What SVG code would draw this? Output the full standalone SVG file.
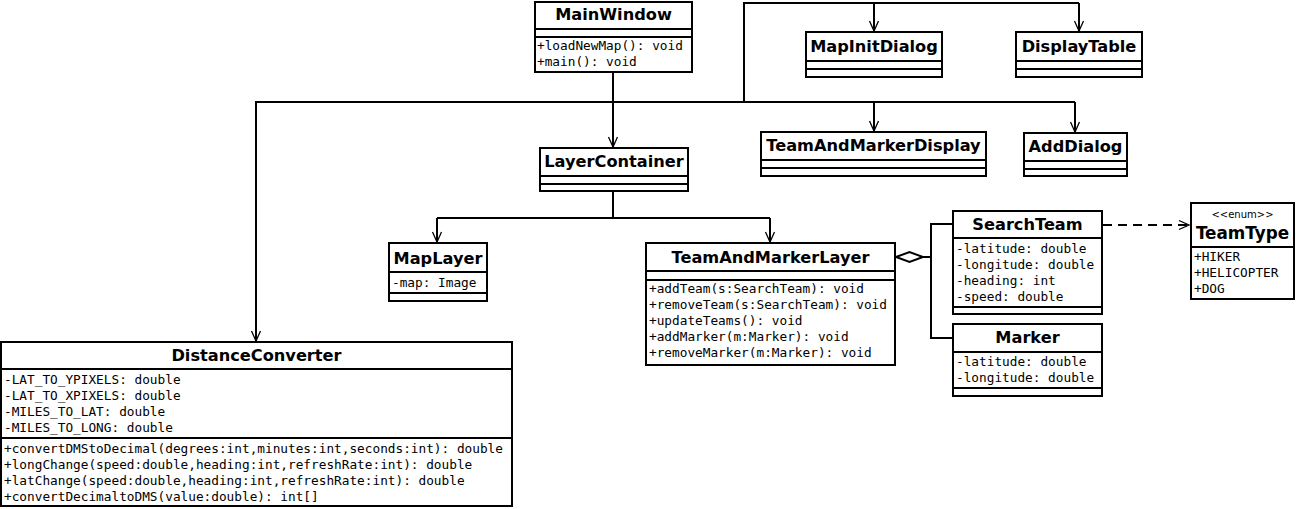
<svg xmlns="http://www.w3.org/2000/svg" width="1296" height="509" viewBox="0 0 1296 509">
<style>
.box{fill:#fff;stroke:#000;stroke-width:2}
.sep{stroke:#000;stroke-width:2}
.t{font-family:"DejaVu Sans",sans-serif;font-weight:bold;font-size:16.2px;text-anchor:middle;fill:#000}
.m{font-family:"DejaVu Sans Mono",monospace;font-size:12.75px;fill:#000}
.st{font-family:"DejaVu Sans",sans-serif;font-size:10px;text-anchor:middle;fill:#000}
.ln{fill:none;stroke:#000;stroke-width:2}
.dash{fill:none;stroke:#000;stroke-width:2;stroke-dasharray:9,6}
</style>
<defs>
<marker id="open" viewBox="0 0 12 12" refX="11" refY="6" markerWidth="12" markerHeight="12" markerUnits="userSpaceOnUse" orient="auto">
<path d="M1,1.5 L11,6 L1,10.5" fill="none" stroke="#000" stroke-width="1.3"/>
</marker>
</defs>
<g id="connectors">
<path class="ln" d="M613,72 V147" marker-end="url(#open)"/>
<path class="ln" d="M256,342 V102 H1075"/>
<path class="ln" d="M744,102 V3 H1079"/>
<path class="ln" d="M874,3 V31" marker-end="url(#open)"/>
<path class="ln" d="M1079,3 V31" marker-end="url(#open)"/>
<path class="ln" d="M256,200 V341" marker-end="url(#open)"/>
<path class="ln" d="M874,102 V131" marker-end="url(#open)"/>
<path class="ln" d="M1075,102 V132" marker-end="url(#open)"/>
<path class="ln" d="M613,191 V218 H437"/>
<path class="ln" d="M613,218 H770"/>
<path class="ln" d="M437,218 V242" marker-end="url(#open)"/>
<path class="ln" d="M770,218 V242" marker-end="url(#open)"/>
<path class="ln" d="M953,224 H931 V338 H953"/>
<path class="ln" d="M931,257 H923"/>
<path d="M896,257 L909.5,252 L923,257 L909.5,262 Z" fill="#fff" stroke="#000" stroke-width="2"/>
<path class="dash" d="M1103,225 H1189" marker-end="url(#open)"/>
</g>
<g id="MainWindow">
<rect class="box" x="535" y="2" width="157" height="70"/>
<line class="sep" x1="535" y1="29" x2="692" y2="29"/>
<line class="sep" x1="535" y1="37" x2="692" y2="37"/>
<text class="t" x="613.5" y="20">MainWindow</text>
<text class="m" x="537" y="50">+loadNewMap(): void</text>
<text class="m" x="537" y="66">+main(): void</text>
</g>
<g id="MapInitDialog">
<rect class="box" x="806" y="32" width="136" height="45"/>
<line class="sep" x1="806" y1="61" x2="942" y2="61"/>
<line class="sep" x1="806" y1="69" x2="942" y2="69"/>
<text class="t" x="874" y="52">MapInitDialog</text>
</g>
<g id="DisplayTable">
<rect class="box" x="1016" y="32" width="126" height="45"/>
<line class="sep" x1="1016" y1="61" x2="1142" y2="61"/>
<line class="sep" x1="1016" y1="69" x2="1142" y2="69"/>
<text class="t" x="1079" y="52">DisplayTable</text>
</g>
<g id="LayerContainer">
<rect class="box" x="540" y="148" width="148" height="43"/>
<line class="sep" x1="540" y1="176" x2="688" y2="176"/>
<line class="sep" x1="540" y1="184" x2="688" y2="184"/>
<text class="t" x="614" y="167">LayerContainer</text>
</g>
<g id="TeamAndMarkerDisplay">
<rect class="box" x="761" y="132" width="225" height="44"/>
<line class="sep" x1="761" y1="160" x2="986" y2="160"/>
<line class="sep" x1="761" y1="168" x2="986" y2="168"/>
<text class="t" x="873.5" y="151">TeamAndMarkerDisplay</text>
</g>
<g id="AddDialog">
<rect class="box" x="1024" y="133" width="103" height="43"/>
<line class="sep" x1="1024" y1="161" x2="1127" y2="161"/>
<line class="sep" x1="1024" y1="169" x2="1127" y2="169"/>
<text class="t" x="1075.5" y="152">AddDialog</text>
</g>
<g id="MapLayer">
<rect class="box" x="389" y="243" width="98" height="58"/>
<line class="sep" x1="389" y1="272" x2="487" y2="272"/>
<line class="sep" x1="389" y1="293" x2="487" y2="293"/>
<text class="t" x="438" y="264">MapLayer</text>
<text class="m" x="392" y="287">-map: Image</text>
</g>
<g id="TeamAndMarkerLayer">
<rect class="box" x="646" y="243" width="249" height="122"/>
<line class="sep" x1="646" y1="271" x2="895" y2="271"/>
<line class="sep" x1="646" y1="280" x2="895" y2="280"/>
<text class="t" x="770.5" y="263">TeamAndMarkerLayer</text>
<text class="m" x="649" y="293">+addTeam(s:SearchTeam): void</text>
<text class="m" x="649" y="309">+removeTeam(s:SearchTeam): void</text>
<text class="m" x="649" y="325">+updateTeams(): void</text>
<text class="m" x="649" y="341">+addMarker(m:Marker): void</text>
<text class="m" x="649" y="357">+removeMarker(m:Marker): void</text>
</g>
<g id="SearchTeam">
<rect class="box" x="953" y="211" width="149" height="103"/>
<line class="sep" x1="953" y1="238" x2="1102" y2="238"/>
<line class="sep" x1="953" y1="307" x2="1102" y2="307"/>
<text class="t" x="1027.5" y="230">SearchTeam</text>
<text class="m" x="956" y="253">-latitude: double</text>
<text class="m" x="956" y="269">-longitude: double</text>
<text class="m" x="956" y="285">-heading: int</text>
<text class="m" x="956" y="301">-speed: double</text>
</g>
<g id="Marker">
<rect class="box" x="953" y="324" width="149" height="72"/>
<line class="sep" x1="953" y1="352" x2="1102" y2="352"/>
<line class="sep" x1="953" y1="388" x2="1102" y2="388"/>
<text class="t" x="1027.5" y="343">Marker</text>
<text class="m" x="956" y="366">-latitude: double</text>
<text class="m" x="956" y="382">-longitude: double</text>
</g>
<g id="TeamType">
<rect class="box" x="1191" y="203" width="103" height="96"/>
<line class="sep" x1="1191" y1="247" x2="1294" y2="247"/>
<text class="st" x="1242.5" y="218">&lt;&lt;enum&gt;&gt;</text>
<text class="t" x="1242.5" y="239" style="font-size:16.8px">TeamType</text>
<text class="m" x="1194" y="261">+HIKER</text>
<text class="m" x="1194" y="277">+HELICOPTER</text>
<text class="m" x="1194" y="293">+DOG</text>
</g>
<g id="DistanceConverter">
<rect class="box" x="1" y="342" width="511" height="164"/>
<line class="sep" x1="1" y1="369" x2="512" y2="369"/>
<line class="sep" x1="1" y1="438" x2="512" y2="438"/>
<text class="t" x="256.5" y="361">DistanceConverter</text>
<text class="m" x="4" y="384">-LAT_TO_YPIXELS: double</text>
<text class="m" x="4" y="400">-LAT_TO_XPIXELS: double</text>
<text class="m" x="4" y="416">-MILES_TO_LAT: double</text>
<text class="m" x="4" y="432">-MILES_TO_LONG: double</text>
<text class="m" x="4" y="453">+convertDMStoDecimal(degrees:int,minutes:int,seconds:int): double</text>
<text class="m" x="4" y="469">+longChange(speed:double,heading:int,refreshRate:int): double</text>
<text class="m" x="4" y="485">+latChange(speed:double,heading:int,refreshRate:int): double</text>
<text class="m" x="4" y="501">+convertDecimaltoDMS(value:double): int[]</text>
</g>
</svg>
